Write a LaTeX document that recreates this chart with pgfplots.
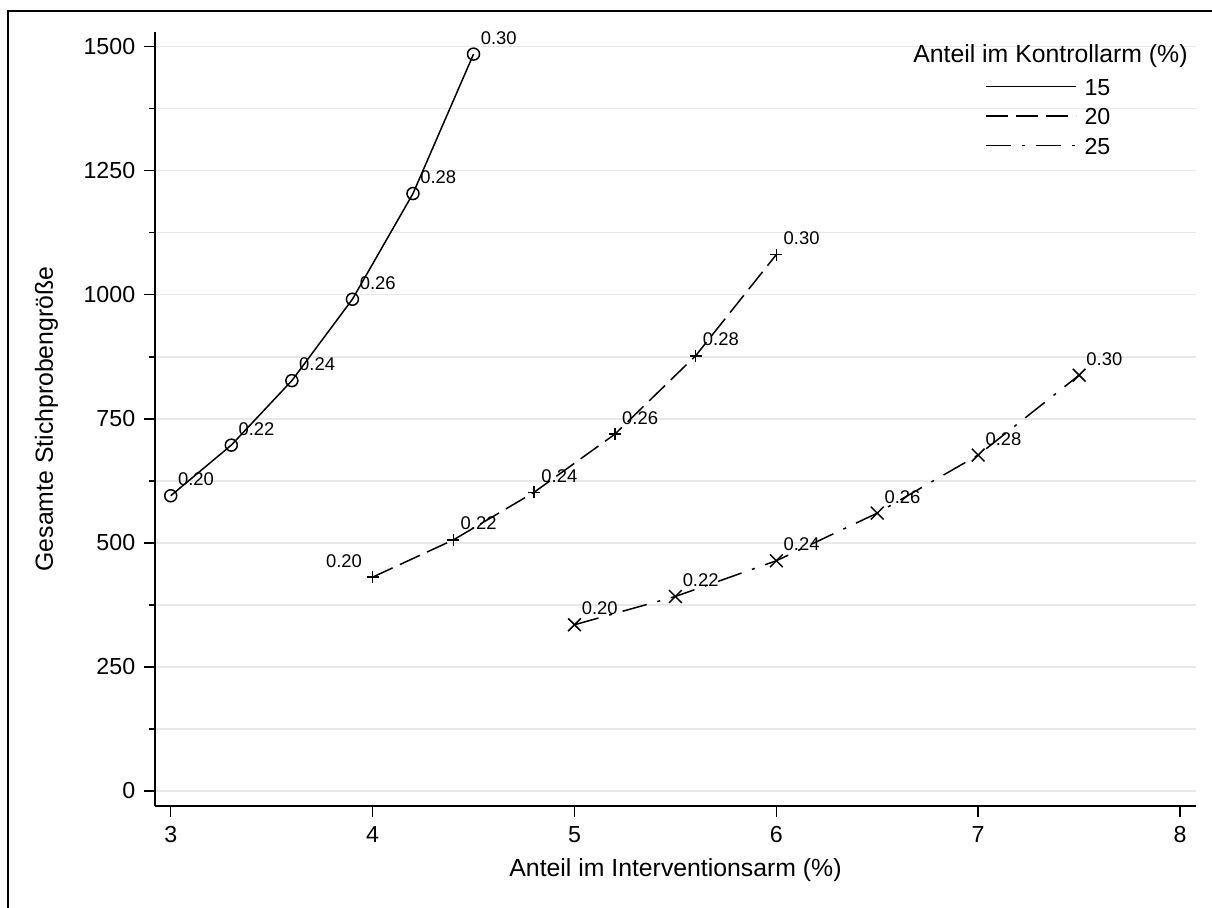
\documentclass[border=0pt]{standalone}
\usepackage{pgfplots}
\usepackage{pgfplotstable}
\pgfplotsset{compat=1.18}
\usepackage{fontspec}
\setmainfont{Liberation Sans}
\definecolor{gridc}{RGB}{232,232,232}

\pgfplotstableread{
x y lab
3.0 595 0.20
3.3 697 0.22
3.6 827 0.24
3.9 991 0.26
4.2 1204 0.28
4.5 1485 0.30
}\serA
\pgfplotstableread{
x y lab
4.0 431 {}
4.4 506 0.22
4.8 602 0.24
5.2 719 0.26
5.6 877 0.28
6.0 1081 0.30
}\serB
\pgfplotstableread{
x y lab
5.0 335 0.20
5.5 392 0.22
6.0 464 0.24
6.5 560 0.26
7.0 677 0.28
7.5 838 0.30
}\serC

\begin{document}
\begin{tikzpicture}[x=1pt,y=1pt]
\useasboundingbox (0,0) rectangle (606,454);
\draw[line width=1pt] (4,0) -- (4,448.5) -- (606,448.5);
\begin{axis}[
  at={(77.5pt,51pt)}, anchor=south west,
  scale only axis, width=520.5pt, height=387pt,
  xmin=2.922, xmax=8.079, ymin=-30.2, ymax=1529.6,
  axis x line*=bottom, axis y line*=left,
  axis line style={-, line width=0.9pt, black},
  xtick={3,4,5,6,7,8},
  ytick={0,250,500,750,1000,1250,1500},
  minor ytick={125,375,625,875,1125,1375},
  ymajorgrids, yminorgrids,
  grid style={color=gridc, line width=0.7pt},
  minor grid style={color=gridc, line width=0.7pt},
  tick align=outside,
  major tick length=5.5pt, minor tick length=2.8pt,
  tick style={black, line width=0.7pt},
  /pgf/number format/assume math mode=true,
  /pgf/number format/1000 sep={},
  tick label style={font=\fontsize{11.6}{13}\selectfont, inner sep=0pt},
  xticklabel style={anchor=base, yshift=-12.7pt},
  yticklabel style={anchor=east, xshift=-4.2pt},
  xlabel={Anteil im Interventionsarm (\%)},
  ylabel={Gesamte Stichprobengröße},
  label style={font=\fontsize{12.4}{14}\selectfont, inner sep=0pt},
  xlabel style={at={(axis description cs:0.5,-0.0917)}, anchor=base},
  ylabel style={at={(axis description cs:-0.098,0.5)}, anchor=base},
  legend style={draw=none, fill=none, at={(axis description cs:0.797,0.9395)}, anchor=north west,
    font=\fontsize{11.6}{13}\selectfont, inner sep=0pt, row sep=5.2pt,
    nodes={inner sep=0pt}},
  legend cell align=left,
  legend image code/.code={\draw[#1, mark=none] (0pt,1.2pt) -- (45pt,1.2pt); \path (49pt,0pt);},
  every axis plot/.append style={black, line width=0.75pt},
  point meta=explicit symbolic,
  every node near coord/.append style={font=\fontsize{9.2}{11}\selectfont, anchor=base west, inner sep=0pt, xshift=3.3pt, yshift=5pt, solid},
]
\addplot[solid, mark=o, mark size=3pt, mark options={solid}, nodes near coords] table[x=x, y=y, meta=lab] {\serA};
\addlegendentry{15}
\addplot[dash pattern=on 11pt off 4pt, mark=+, mark size=3pt, mark options={solid}, nodes near coords] table[x=x, y=y, meta=lab] {\serB};
\addlegendentry{20}
\addplot[dash pattern=on 12.5pt off 5.5pt on 1.5pt off 5.5pt, mark=x, mark size=4.5pt, mark options={solid}, nodes near coords] table[x=x, y=y, meta=lab] {\serC};
\addlegendentry{25}
\addplot[draw=none, mark=none, forget plot, nodes near coords,
  every node near coord/.append style={anchor=base east, xshift=-8.3pt}] coordinates {(4.0,431) [0.20]};
\node[anchor=base east, font=\fontsize{12.4}{14}\selectfont, inner sep=0pt] at (axis description cs:0.9923,0.9603) {Anteil im Kontrollarm (\%)};
\end{axis}
\end{tikzpicture}
\end{document}
